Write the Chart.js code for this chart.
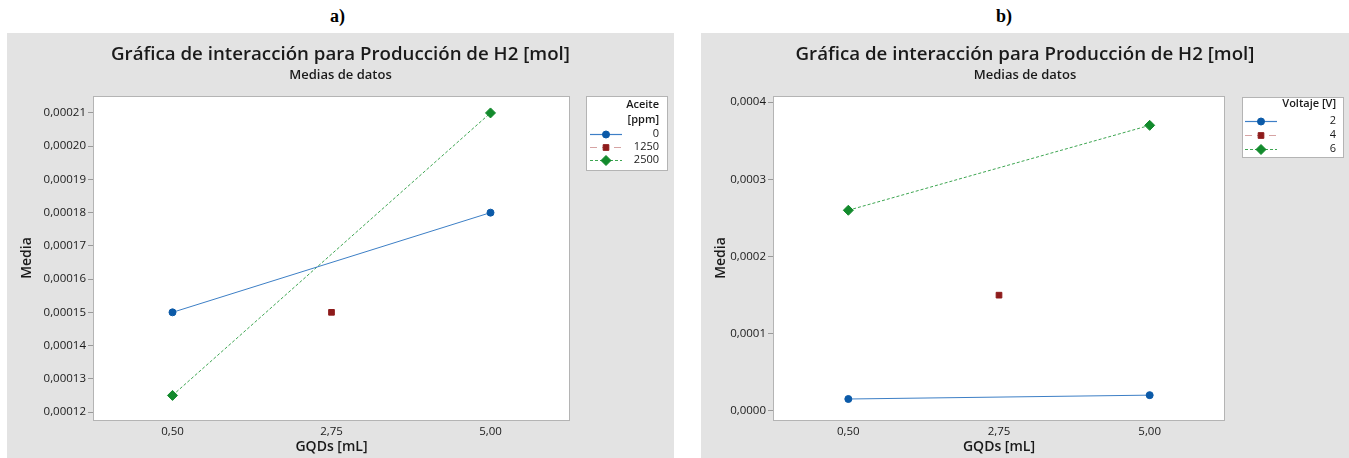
<!DOCTYPE html>
<html lang="es">
<head>
<meta charset="UTF-8">
<script src="https://cdn.jsdelivr.net/npm/chart.js@4"></script>
<title>Gráfica de interacción</title>
<style>
    body { margin: 0; background: #fff; width: 1349px; height: 458px; position: relative; overflow: hidden; }
    .etiqueta { position: absolute; top: 6px; font: bold 18px "Liberation Serif", serif; color: #000; }
    .panel { position: absolute; top: 33px; height: 425px; background: #e3e3e3; }
    #panelA { left: 7px; width: 667px; }
    #panelB { left: 701px; width: 648px; }
</style>
</head>
<body>
    <div class="etiqueta" style="left:330px">a)</div>
    <div class="etiqueta" style="left:996px">b)</div>
    <div class="panel" id="panelA"><canvas id="chartA" width="667" height="425"></canvas></div>
    <div class="panel" id="panelB"><canvas id="chartB" width="648" height="425"></canvas></div>

<script>
    // datos
    const gqds = [0.50, 5.00];
    const gqdsCentro = [2.75];
    const ticksX = [0.50, 2.75, 5.00];

    const aceiteNiveles = ['0', '1250', '2500'];
    const aceite0 = [0.00015, 0.00018];
    const aceite1250 = [0.00015];
    const aceite2500 = [0.000125, 0.00021];
    const ticksYA = [0.00012, 0.00013, 0.00014, 0.00015, 0.00016, 0.00017, 0.00018, 0.00019, 0.00020, 0.00021];

    const voltajeNiveles = ['2', '4', '6'];
    const voltaje2 = [0.0000155, 0.0000205];
    const voltaje4 = [0.00015];
    const voltaje6 = [0.00026, 0.00037];
    const ticksYB = [0.0000, 0.0001, 0.0002, 0.0003, 0.0004];

    const titulo = 'Gráfica de interacción para Producción de H2 [mol]';
    const subtitulo = 'Medias de datos';

    const fuente = '"Open Sans", "Noto Sans", sans-serif';
    const estilos = [
        { color: '#0b5aa8', linea: '#3d7fc6', forma: 'circle', radio: 3.5, dash: [], lineaLeyenda: '#3d7fc6' },
        { color: '#8e1b1b', linea: '#c98c8c', forma: 'rect', radio: 4, dash: [7, 5], lineaLeyenda: '#d6a3a3' },
        { color: '#128a2c', linea: '#3ea652', forma: 'rectRot', radio: 5, dash: [3, 2], lineaLeyenda: '#3ea652' }
    ];

    function puntos(xs, ys) {
        return xs.map((x, i) => ({ x: x, y: ys[i] }));
    }

    function crearDatasets(niveles, series, xsSeries) {
        return niveles.map((nivel, i) => ({
            label: nivel,
            data: puntos(xsSeries[i], series[i]),
            borderColor: estilos[i].linea,
            borderWidth: 1,
            borderDash: estilos[i].dash,
            backgroundColor: estilos[i].color,
            pointBackgroundColor: estilos[i].color,
            pointBorderColor: estilos[i].color,
            pointStyle: estilos[i].forma,
            pointRadius: estilos[i].radio,
            showLine: true,
            clip: false
        }));
    }

    // fondo blanco del area y marco gris + titulos + leyenda
    const pluginMinitab = {
        id: 'minitab',
        beforeDraw(chart) {
            const a = chart.chartArea;
            const ctx = chart.ctx;
            ctx.save();
            ctx.fillStyle = '#ffffff';
            ctx.fillRect(a.left, a.top, a.right - a.left, a.bottom - a.top);
            ctx.restore();
        },
        afterDraw(chart, args, opts) {
            const a = chart.chartArea;
            const ctx = chart.ctx;
            ctx.save();
            ctx.strokeStyle = '#b4b4b4';
            ctx.lineWidth = 1;
            ctx.strokeRect(a.left + 0.5, a.top + 0.5, a.right - a.left - 1, a.bottom - a.top);

            // titulos
            ctx.fillStyle = '#1a1a1a';
            ctx.textAlign = 'center';
            ctx.textBaseline = 'middle';
            ctx.font = '600 18.7px ' + fuente;
            ctx.fillText(titulo, chart.width / 2, 22);
            ctx.font = '600 13px ' + fuente;
            ctx.fillText(subtitulo, chart.width / 2, 42);

            // leyenda
            const L = opts.leyenda;
            ctx.fillStyle = '#ffffff';
            ctx.fillRect(L.x, L.y, L.w, L.h);
            ctx.strokeStyle = '#b4b4b4';
            ctx.strokeRect(L.x + 0.5, L.y + 0.5, L.w, L.h);
            ctx.fillStyle = '#1a1a1a';
            ctx.textAlign = 'right';
            ctx.font = '600 11px ' + fuente;
            L.titulo.forEach((t, i) => ctx.fillText(t, L.textoX, L.tituloY + i * 15));
            ctx.font = '11px ' + fuente;
            chart.data.datasets.forEach((ds, i) => {
                const y = L.filaY + i * L.paso;
                const e = estilos[i];
                ctx.save();
                ctx.strokeStyle = e.lineaLeyenda;
                ctx.lineWidth = 1.2;
                ctx.setLineDash(e.dash);
                ctx.beginPath();
                ctx.moveTo(L.lineaX, y + 0.5);
                ctx.lineTo(L.lineaX + 32, y + 0.5);
                ctx.stroke();
                ctx.restore();
                ctx.fillStyle = e.color;
                ctx.strokeStyle = e.color;
                Chart.helpers.drawPoint(ctx, {
                    pointStyle: e.forma, radius: e.radio, rotation: 0, borderWidth: 1
                }, L.lineaX + 16, y + 0.5);
                ctx.fillStyle = '#1a1a1a';
                ctx.fillText(ds.label, L.textoX, y);
            });
            ctx.restore();
        }
    };

    function crearGrafico(id, datasets, ticksY, yMin, yMax, decimales, ancho, derecha, leyenda) {
        const coma = v => v.toFixed(decimales).replace('.', ',');
        return new Chart(document.getElementById(id), {
            type: 'scatter',
            data: { datasets: datasets },
            plugins: [pluginMinitab],
            options: {
                responsive: false,
                animation: false,
                layout: { padding: { left: 0, top: 63, right: derecha, bottom: 0 } },
                plugins: {
                    legend: { display: false },
                    tooltip: { enabled: false },
                    minitab: { leyenda: leyenda }
                },
                scales: {
                    x: {
                        type: 'linear',
                        min: -0.625,
                        max: 6.125,
                        afterBuildTicks: s => { s.ticks = ticksX.map(v => ({ value: v })); },
                        afterFit: s => { s.height = 38; },
                        grid: { display: false, drawTicks: false, tickLength: 0 },
                        border: { display: false },
                        ticks: {
                            padding: 5,
                            color: '#1a1a1a',
                            font: { family: fuente, size: 11.5 },
                            callback: v => v.toFixed(2).replace('.', ',')
                        },
                        title: {
                            display: true,
                            text: 'GQDs [mL]',
                            color: '#1a1a1a',
                            padding: 3,
                            font: { family: fuente, size: 14, weight: '600' }
                        }
                    },
                    y: {
                        min: yMin,
                        max: yMax,
                        afterBuildTicks: s => { s.ticks = ticksY.map(v => ({ value: v })); },
                        afterFit: s => { s.width = ancho; },
                        grid: { drawOnChartArea: false, drawTicks: true, tickLength: 5, color: '#9a9a9a' },
                        border: { display: false },
                        ticks: {
                            padding: 2,
                            color: '#1a1a1a',
                            font: { family: fuente, size: 11.5 },
                            callback: v => coma(v)
                        },
                        title: {
                            display: true,
                            text: 'Media',
                            color: '#1a1a1a',
                            padding: 12,
                            font: { family: fuente, size: 14, weight: '600' }
                        }
                    }
                }
            }
        });
    }

    crearGrafico('chartA',
        crearDatasets(aceiteNiveles, [aceite0, aceite1250, aceite2500], [gqds, gqdsCentro, gqds]),
        ticksYA, 0.0001176, 0.0002151, 5, 86, 104,
        { x: 579, y: 63, w: 81, h: 74, titulo: ['Aceite', '[ppm]'], tituloY: 72, textoX: 652, filaY: 101, paso: 13, lineaX: 583 });

    crearGrafico('chartB',
        crearDatasets(voltajeNiveles, [voltaje2, voltaje4, voltaje6], [gqds, gqdsCentro, gqds]),
        ticksYB, -0.0000117, 0.000408, 4, 72, 124,
        { x: 541, y: 64, w: 101, h: 60, titulo: ['Voltaje [V]'], tituloY: 71, textoX: 635, filaY: 88, paso: 14, lineaX: 544 });
</script>
</body>
</html>
